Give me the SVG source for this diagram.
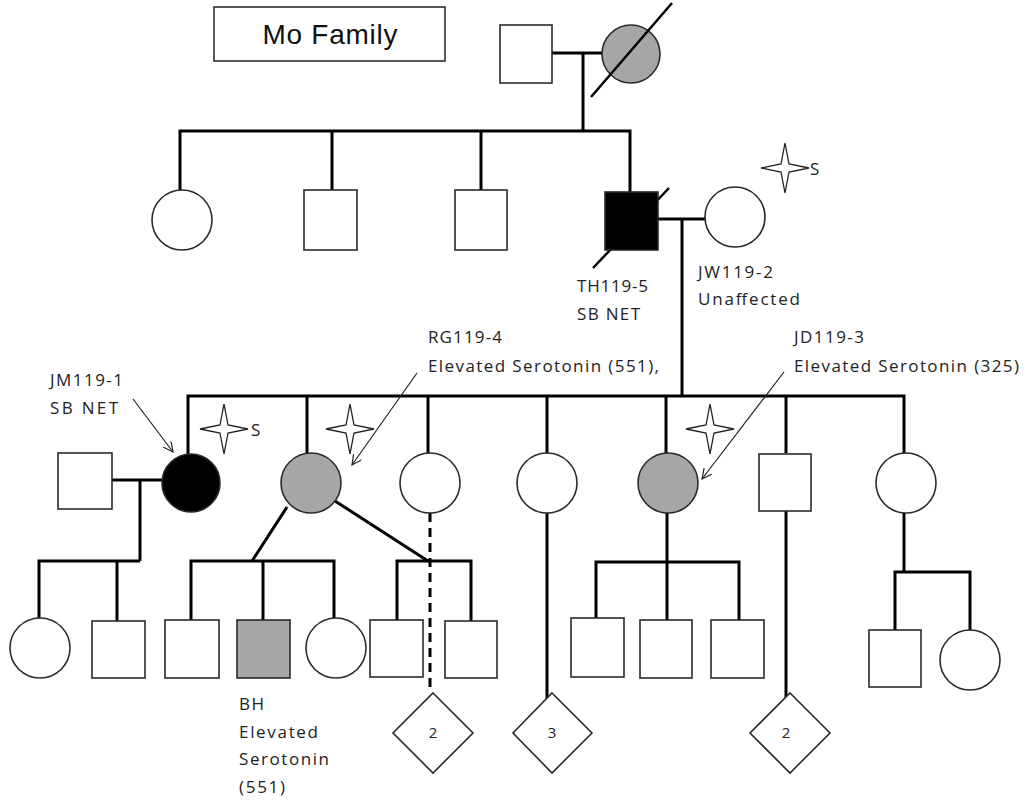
<svg xmlns="http://www.w3.org/2000/svg" width="1024" height="801" viewBox="0 0 1024 801">
<style>
.sh{stroke:#2a2a2a;stroke-width:1.6}
.w{fill:#fff}
.g{fill:#a6a6a6}
.b{fill:#000}
.ln{stroke:#000;stroke-width:3;fill:none}
.dash{stroke:#000;stroke-width:3;fill:none;stroke-dasharray:9,6}
.ar{stroke:#222;stroke-width:1.2;fill:none}
.lab{font-family:"Open Sans","Liberation Sans",sans-serif;font-size:17px;fill:#222}
.num{font-family:"Open Sans","Liberation Sans",sans-serif;font-size:15px;fill:#222;text-anchor:middle}
.star{fill:#fff;stroke:#222;stroke-width:1.3}
</style>
<defs>
<path id="st" d="M0,-25 L4,-4 L24,0 L4,4 L0,25 L-4,4 L-24,0 L-4,-4 Z"/>
<marker id="ah" markerWidth="12" markerHeight="12" refX="10" refY="5" orient="auto" markerUnits="userSpaceOnUse">
<path d="M0,0 L10,5 L0,10" fill="none" stroke="#222" stroke-width="1.2"/>
</marker>
</defs>
<rect width="1024" height="801" fill="#fff"/>

<g id="title">
<rect x="214" y="7" width="231" height="54" fill="#fff" stroke="#222" stroke-width="1.5"/>
<text x="330" y="44" text-anchor="middle" font-family="Liberation Sans, sans-serif" font-size="28" fill="#111" textLength="135">Mo Family</text>
</g>

<g id="connectors">
<line class="ln" x1="552" y1="53" x2="602" y2="53"/>
<line class="ln" x1="583" y1="53" x2="583" y2="131"/>
<polyline class="ln" points="180,190 180,131 630,131 630,192"/>
<line class="ln" x1="332" y1="131" x2="332" y2="190"/>
<line class="ln" x1="481" y1="131" x2="481" y2="190"/>
<line class="ln" x1="658" y1="219" x2="705" y2="219"/>
<line class="ln" x1="682" y1="219" x2="682" y2="396"/>
<polyline class="ln" points="188,454 188,396 904,396 904,453"/>
<line class="ln" x1="307" y1="396" x2="307" y2="453"/>
<line class="ln" x1="428" y1="396" x2="428" y2="453"/>
<line class="ln" x1="547" y1="396" x2="547" y2="453"/>
<line class="ln" x1="666" y1="396" x2="666" y2="453"/>
<line class="ln" x1="786" y1="396" x2="786" y2="453"/>
<line class="ln" x1="112" y1="480" x2="162" y2="480"/>
<line class="ln" x1="140" y1="480" x2="140" y2="561"/>
<polyline class="ln" points="39,618 39,561 140,561"/>
<line class="ln" x1="117" y1="561" x2="117" y2="621"/>
<line class="ln" x1="287" y1="507" x2="252" y2="561"/>
<polyline class="ln" points="191,620 191,561 334,561 334,620"/>
<line class="ln" x1="263" y1="561" x2="263" y2="620"/>
<line class="ln" x1="335" y1="501" x2="428" y2="561"/>
<polyline class="ln" points="397,620 397,561 471,561 471,621"/>
<line class="dash" x1="430" y1="513" x2="430" y2="693"/>
<line class="ln" x1="547" y1="513" x2="547" y2="703"/>
<line class="ln" x1="667" y1="513" x2="667" y2="620"/>
<polyline class="ln" points="596,618 596,562 739,562 739,621"/>
<line class="ln" x1="786" y1="511" x2="786" y2="703"/>
<line class="ln" x1="904" y1="513" x2="904" y2="572"/>
<polyline class="ln" points="895,630 895,572 970,572 970,630"/>
</g>

<g id="gen1-father"><rect class="sh w" x="500" y="25" width="52" height="58"/></g>
<g id="gen1-mother">
<circle class="sh g" cx="631" cy="54" r="29"/>
<line x1="591" y1="97" x2="672" y2="3" stroke="#000" stroke-width="2.5"/>
</g>

<g id="gen2-daughter"><circle class="sh w" cx="182" cy="220" r="30"/></g>
<g id="gen2-son1"><rect class="sh w" x="304" y="190" width="53" height="60"/></g>
<g id="gen2-son2"><rect class="sh w" x="455" y="190" width="52" height="60"/></g>
<g id="TH119-5">
<line x1="593" y1="268" x2="669" y2="188" stroke="#000" stroke-width="2.5"/>
<rect class="sh b" x="605" y="192" width="53" height="58"/>
<text class="lab" x="577" y="292" textLength="71">TH119-5</text>
<text class="lab" x="577" y="320" textLength="63">SB NET</text>
</g>
<g id="JW119-2">
<circle class="sh w" cx="735" cy="217" r="30"/>
<text class="lab" x="698" y="278" textLength="75">JW119-2</text>
<text class="lab" x="698" y="305" textLength="102">Unaffected</text>
<use href="#st" class="star" x="785" y="168"/>
<text class="lab" x="810" y="175" font-size="18">S</text>
</g>

<g id="gen3-husband"><rect class="sh w" x="58" y="453" width="54" height="56"/></g>
<g id="JM119-1">
<circle class="sh b" cx="191" cy="483" r="29"/>
<text class="lab" x="50" y="386" textLength="73">JM119-1</text>
<text class="lab" x="50" y="414" textLength="68">SB NET</text>
<line class="ar" x1="133" y1="399" x2="173" y2="452" marker-end="url(#ah)"/>
<use href="#st" class="star" x="224" y="429"/>
<text class="lab" x="251" y="436" font-size="18">S</text>
</g>
<g id="RG119-4">
<circle class="sh g" cx="311" cy="483" r="30"/>
<use href="#st" class="star" x="350" y="429"/>
<text class="lab" x="428" y="343" textLength="74">RG119-4</text>
<text class="lab" x="428" y="372" textLength="231">Elevated Serotonin (551),</text>
<line class="ar" x1="417" y1="373" x2="352" y2="465" marker-end="url(#ah)"/>
</g>
<g id="gen3-daughter2"><circle class="sh w" cx="430" cy="483" r="30"/></g>
<g id="gen3-daughter3"><circle class="sh w" cx="547" cy="483" r="30"/></g>
<g id="JD119-3">
<circle class="sh g" cx="668" cy="483" r="30"/>
<use href="#st" class="star" x="710" y="429"/>
<text class="lab" x="794" y="343" textLength="70">JD119-3</text>
<text class="lab" x="794" y="372" textLength="225">Elevated Serotonin (325)</text>
<line class="ar" x1="784" y1="372" x2="702" y2="479" marker-end="url(#ah)"/>
</g>
<g id="gen3-son"><rect class="sh w" x="759" y="454" width="52" height="57"/></g>
<g id="gen3-daughter4"><circle class="sh w" cx="906" cy="483" r="30"/></g>

<g id="gen4-jm-daughter"><circle class="sh w" cx="40" cy="648" r="30"/></g>
<g id="gen4-jm-son"><rect class="sh w" x="92" y="621" width="53" height="57"/></g>
<g id="gen4-rg-son1"><rect class="sh w" x="165" y="620" width="54" height="58"/></g>
<g id="BH">
<rect class="sh g" x="237" y="620" width="53" height="58"/>
<text class="lab" x="239" y="710" textLength="25">BH</text>
<text class="lab" x="239" y="738" textLength="79">Elevated</text>
<text class="lab" x="239" y="765" textLength="90">Serotonin</text>
<text class="lab" x="239" y="793" textLength="46">(551)</text>
</g>
<g id="gen4-rg-daughter"><circle class="sh w" cx="336" cy="648" r="30"/></g>
<g id="gen4-rg-son2"><rect class="sh w" x="370" y="620" width="53" height="57"/></g>
<g id="gen4-rg-son3"><rect class="sh w" x="445" y="621" width="52" height="57"/></g>
<g id="diamond-2a">
<polygon class="sh w" points="433,693 473,733 433,773 393,733"/>
<text class="num" x="433" y="738">2</text>
</g>
<g id="diamond-3">
<polygon class="sh w" points="552,693 592,733 552,773 513,733"/>
<text class="num" x="552" y="738">3</text>
</g>
<g id="gen4-jd-son1"><rect class="sh w" x="571" y="618" width="53" height="59"/></g>
<g id="gen4-jd-son2"><rect class="sh w" x="640" y="620" width="52" height="58"/></g>
<g id="gen4-jd-son3"><rect class="sh w" x="711" y="620" width="53" height="58"/></g>
<g id="diamond-2b">
<polygon class="sh w" points="790,693 830,733 790,773 750,733"/>
<text class="num" x="786" y="738">2</text>
</g>
<g id="gen4-last-son"><rect class="sh w" x="869" y="630" width="52" height="57"/></g>
<g id="gen4-last-daughter"><circle class="sh w" cx="970" cy="660" r="30"/></g>
</svg>
